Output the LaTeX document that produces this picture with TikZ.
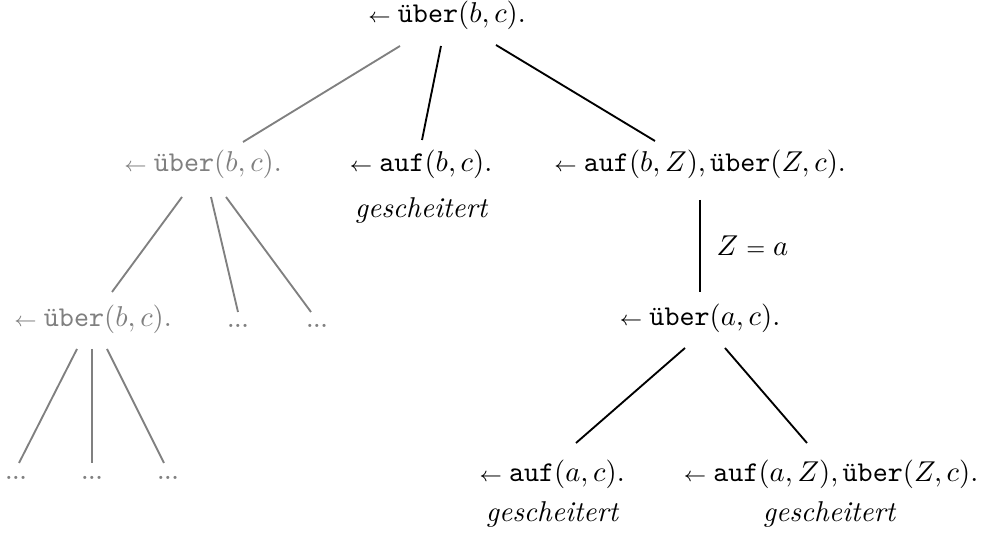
\documentclass[tikz,border=0pt]{standalone}
\usetikzlibrary{calc}
\definecolor{fadedgray}{RGB}{128,128,128}
\newcommand{\smarrow}{\hbox{\fontsize{7.5}{9}\selectfont$\leftarrow$}\hspace{2.4pt}}
\newcommand{\smeq}{\mathrel{\hbox{\fontsize{7.8}{9}\selectfont$=$}}}
\begin{document}
\begin{tikzpicture}[x=0.3488pt,y=-0.3488pt,
  lbl/.style={inner sep=0pt, anchor=base},
  faded/.style={text=fadedgray},
  fail/.style={inner sep=0pt, anchor=base, font=\itshape},
  edge/.style={line width=0.65pt, draw=black},
  fadededge/.style={line width=0.65pt, draw=fadedgray},
  dotsnode/.style={inner sep=0pt, anchor=base, text=fadedgray, font=\fontsize{6.8}{8}\selectfont\bfseries}]
\useasboundingbox (0,0) rectangle (992,534);
% root
\node[lbl] (r) at (447,23) {\smarrow\texttt{über}$(b,c)$.};
% level 1
\node[lbl,faded] (a1) at (203,172) {\smarrow\texttt{über}$(b,c)$.};
\node[lbl] (b1) at (421,172) {\smarrow\texttt{auf}$(b,c)$.};
\node[fail] (g1) at (421,218) {gescheitert};
\node[lbl] (c1) at (700,172) {\smarrow\texttt{auf}$(b,Z)$,\hspace{1.5pt}\texttt{über}$(Z,c)$.};
% level 2
\node[lbl,faded] (a2) at (93,327) {\smarrow\texttt{über}$(b,c)$.};
\node[dotsnode] (dA) at (238,328) {...};
\node[dotsnode] (dB) at (317,328) {...};
\node[lbl] (c2) at (700,326) {\smarrow\texttt{über}$(a,c)$.};
% level 3
\node[dotsnode] (e1) at (16,480) {...};
\node[dotsnode] (e2) at (92,480) {...};
\node[dotsnode] (e3) at (168,480) {...};
\node[lbl] (d1) at (552,482) {\smarrow\texttt{auf}$(a,c)$.};
\node[fail] (g2) at (552,522) {gescheitert};
\node[lbl] (d2) at (831,482) {\smarrow\texttt{auf}$(a,Z)$,\hspace{1.5pt}\texttt{über}$(Z,c)$.};
\node[fail] (g3) at (829,522) {gescheitert};
% edges
\draw[fadededge] ($(r.base)+(-47,23)$) -- ($(a1.base)+(40,-30)$);
\draw[edge] ($(r.base)+(-6,23)$) -- ($(b1.base)+(1,-32)$);
\draw[edge] ($(r.base)+(49,22)$) -- ($(c1.base)+(-45,-31)$);
\draw[fadededge] ($(a1.base)+(-21,25)$) -- ($(a2.base)+(19,-35)$);
\draw[fadededge] ($(a1.base)+(8,25)$) -- ($(dA.base)+(0,-16)$);
\draw[fadededge] ($(a1.base)+(23,25)$) -- ($(dB.base)+(-6,-16)$);
\draw[fadededge] ($(a2.base)+(-16,22)$) -- ($(e1.base)+(3,-17)$);
\draw[fadededge] ($(a2.base)+(-1,22)$) -- ($(e2.base)+(0,-17)$);
\draw[fadededge] ($(a2.base)+(14,22)$) -- ($(e3.base)+(-4,-17)$);
\draw[edge] ($(c1.base)+(0,28)$) -- node[right=5.5pt, inner sep=0pt] {$Z\smeq a$} ($(c2.base)+(0,-34)$);
\draw[edge] ($(c2.base)+(-15,22)$) -- ($(d1.base)+(24,-39)$);
\draw[edge] ($(c2.base)+(25,22)$) -- ($(d2.base)+(-24,-39)$);
\end{tikzpicture}
\end{document}
